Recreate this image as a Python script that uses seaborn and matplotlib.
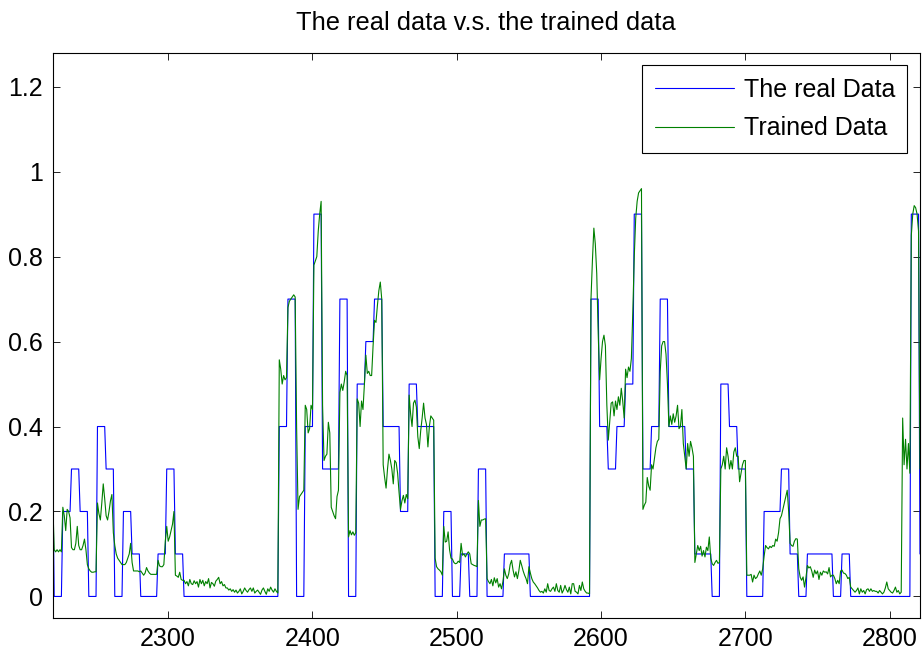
import matplotlib
matplotlib.use("Agg")
import matplotlib.pyplot as plt
import seaborn as sns
import pandas as pd

# ---- data ------------------------------------------------------------
x_start = 2220          # first sample index shown
block_len = 6           # samples per held value of the real series

real_head = [0.3]
real_blocks = [
    0, 0.2, 0.3, 0.2, 0, 0.4, 0.3, 0, 0.2, 0.1,
    0, 0, 0.1, 0.3, 0.1, 0, 0, 0, 0, 0,
    0, 0, 0, 0, 0, 0, 0.4, 0.7, 0, 0.4,
    0.9, 0.3, 0.3, 0.7, 0, 0.5, 0.6, 0.7, 0.4, 0.4,
    0.2, 0.5, 0.4, 0.4, 0, 0.2, 0, 0.1, 0, 0.3,
    0, 0, 0.1, 0.1, 0.1, 0, 0, 0, 0, 0,
    0, 0, 0.7, 0.4, 0.3, 0.4, 0.5, 0.9, 0.3, 0.4,
    0.7, 0.4, 0.4, 0.3, 0.1, 0.1, 0, 0.5, 0.4, 0.3,
    0, 0, 0.2, 0.2, 0.3, 0.1, 0, 0.1, 0.1, 0.1,
    0, 0.1, 0, 0, 0, 0, 0, 0, 0, 0.9,
]
real_tail = [0.1]

trained_head = [0.23]
trained_blocks = [
    [0.11, 0.105, 0.11, 0.105, 0.11, 0.105],
    [0.21, 0.19, 0.155, 0.205, 0.2, 0.185],
    [0.115, 0.11, 0.11, 0.125, 0.165, 0.12],
    [0.11, 0.11, 0.12, 0.135, 0.11, 0.075],
    [0.065, 0.06, 0.057, 0.057, 0.058, 0.058],
    [0.22, 0.195, 0.18, 0.22, 0.265, 0.23],
    [0.19, 0.18, 0.2, 0.225, 0.24, 0.15],
    [0.12, 0.1, 0.09, 0.085, 0.08, 0.075],
    [0.075, 0.075, 0.08, 0.09, 0.1, 0.125],
    [0.08, 0.06, 0.06, 0.06, 0.06, 0.058],
    [0.06, 0.055, 0.05, 0.055, 0.068, 0.06],
    [0.055, 0.052, 0.052, 0.052, 0.052, 0.052],
    [0.085, 0.072, 0.07, 0.07, 0.075, 0.13],
    [0.165, 0.13, 0.14, 0.155, 0.17, 0.2],
    [0.05, 0.048, 0.045, 0.057, 0.04, 0.038],
    [0.038, 0.03, 0.035, 0.025, 0.04, 0.03],
    [0.028, 0.037, 0.03, 0.035, 0.022, 0.04],
    [0.03, 0.038, 0.025, 0.035, 0.03, 0.042],
    [0.02, 0.033, 0.03, 0.024, 0.036, 0.04],
    [0.045, 0.03, 0.035, 0.025, 0.028, 0.02],
    [0.02, 0.015, 0.018, 0.012, 0.016, 0.01],
    [0.015, 0.008, 0.012, 0.018, 0.006, 0.012],
    [0.02, 0.014, 0.01, 0.016, 0.02, 0.012],
    [0.02, 0.008, 0.012, 0.015, 0.01, 0.005],
    [0.015, 0.02, 0.012, 0.005, 0.018, 0.012],
    [0.022, 0.015, 0.01, 0.018, 0.012, 0.008],
    [0.557, 0.535, 0.5, 0.52, 0.51, 0.515],
    [0.68, 0.695, 0.7, 0.705, 0.71, 0.705],
    [0.4, 0.205, 0.235, 0.24, 0.245, 0.25],
    [0.45, 0.44, 0.385, 0.395, 0.45, 0.44],
    [0.78, 0.79, 0.8, 0.86, 0.9, 0.93],
    [0.45, 0.32, 0.33, 0.335, 0.41, 0.385],
    [0.21, 0.2, 0.19, 0.183, 0.235, 0.25],
    [0.48, 0.5, 0.485, 0.505, 0.53, 0.52],
    [0.14, 0.155, 0.145, 0.152, 0.144, 0.15],
    [0.465, 0.455, 0.4, 0.46, 0.44, 0.5],
    [0.568, 0.525, 0.53, 0.52, 0.52, 0.59],
    [0.65, 0.645, 0.685, 0.72, 0.74, 0.7],
    [0.31, 0.28, 0.255, 0.3, 0.335, 0.32],
    [0.3, 0.265, 0.32, 0.315, 0.29, 0.245],
    [0.205, 0.225, 0.238, 0.22, 0.24, 0.23],
    [0.474, 0.43, 0.4, 0.455, 0.462, 0.446],
    [0.376, 0.348, 0.39, 0.42, 0.455, 0.42],
    [0.405, 0.352, 0.4, 0.425, 0.42, 0.415],
    [0.09, 0.07, 0.065, 0.062, 0.058, 0.05],
    [0.165, 0.128, 0.13, 0.152, 0.11, 0.09],
    [0.088, 0.08, 0.077, 0.078, 0.083, 0.08],
    [0.125, 0.097, 0.1, 0.093, 0.1, 0.105],
    [0.1, 0.077, 0.075, 0.073, 0.072, 0.07],
    [0.226, 0.165, 0.18, 0.18, 0.182, 0.183],
    [0.042, 0.035, 0.03, 0.04, 0.025, 0.044],
    [0.032, 0.042, 0.022, 0.03, 0.018, 0.035],
    [0.065, 0.05, 0.042, 0.053, 0.075, 0.085],
    [0.062, 0.046, 0.058, 0.042, 0.06, 0.085],
    [0.073, 0.06, 0.05, 0.042, 0.03, 0.07],
    [0.055, 0.042, 0.034, 0.03, 0.025, 0.02],
    [0.014, 0.01, 0.012, 0.008, 0.018, 0.01],
    [0.03, 0.014, 0.012, 0.018, 0.022, 0.012],
    [0.03, 0.014, 0.01, 0.026, 0.008, 0.015],
    [0.026, 0.016, 0.01, 0.022, 0.006, 0.03],
    [0.03, 0.012, 0.01, 0.006, 0.026, 0.014],
    [0.034, 0.018, 0.012, 0.008, 0.008, 0.006],
    [0.7, 0.79, 0.867, 0.83, 0.76, 0.62],
    [0.51, 0.56, 0.6, 0.615, 0.59, 0.45],
    [0.368, 0.41, 0.455, 0.458, 0.425, 0.46],
    [0.44, 0.47, 0.45, 0.49, 0.46, 0.42],
    [0.535, 0.515, 0.54, 0.53, 0.56, 0.67],
    [0.8, 0.89, 0.93, 0.95, 0.955, 0.96],
    [0.205, 0.215, 0.222, 0.28, 0.26, 0.25],
    [0.31, 0.3, 0.325, 0.35, 0.365, 0.37],
    [0.53, 0.59, 0.6, 0.6, 0.57, 0.5],
    [0.4, 0.425, 0.405, 0.43, 0.41, 0.425],
    [0.45, 0.395, 0.4, 0.44, 0.36, 0.33],
    [0.3, 0.36, 0.33, 0.365, 0.35, 0.33],
    [0.08, 0.1, 0.12, 0.108, 0.118, 0.095],
    [0.108, 0.093, 0.116, 0.108, 0.14, 0.09],
    [0.077, 0.073, 0.08, 0.085, 0.078, 0.08],
    [0.3, 0.31, 0.33, 0.3, 0.35, 0.33],
    [0.3, 0.32, 0.3, 0.34, 0.35, 0.33],
    [0.33, 0.27, 0.29, 0.31, 0.32, 0.32],
    [0.05, 0.05, 0.05, 0.052, 0.034, 0.05],
    [0.042, 0.045, 0.053, 0.06, 0.05, 0.065],
    [0.095, 0.12, 0.115, 0.112, 0.118, 0.115],
    [0.12, 0.118, 0.135, 0.13, 0.15, 0.183],
    [0.19, 0.205, 0.22, 0.235, 0.25, 0.2],
    [0.125, 0.12, 0.118, 0.13, 0.136, 0.135],
    [0.065, 0.045, 0.038, 0.046, 0.022, 0.045],
    [0.073, 0.067, 0.07, 0.06, 0.045, 0.062],
    [0.053, 0.06, 0.04, 0.057, 0.05, 0.06],
    [0.057, 0.058, 0.053, 0.068, 0.046, 0.05],
    [0.05, 0.042, 0.03, 0.038, 0.03, 0.06],
    [0.062, 0.055, 0.054, 0.05, 0.042, 0.045],
    [0.022, 0.018, 0.014, 0.01, 0.014, 0.02],
    [0.006, 0.018, 0.01, 0.014, 0.006, 0.016],
    [0.018, 0.012, 0.018, 0.012, 0.014, 0.012],
    [0.012, 0.008, 0.014, 0.01, 0.006, 0.01],
    [0.02, 0.034, 0.018, 0.014, 0.01, 0.008],
    [0.014, 0.022, 0.01, 0.014, 0.006, 0.01],
    [0.42, 0.31, 0.37, 0.3, 0.36, 0.29],
    [0.85, 0.9, 0.92, 0.915, 0.9, 0.86],
]
trained_tail = [0.3]

x_ticks = [2300, 2400, 2500, 2600, 2700, 2800]
y_ticks = [0, 0.2, 0.4, 0.6, 0.8, 1.0, 1.2]
y_tick_labels = ["0", "0.2", "0.4", "0.6", "0.8", "1", "1.2"]

series_names = ["The real Data", "Trained Data"]
title_text = "The real data v.s. the trained data"

# ---- assemble the series --------------------------------------------
real = list(real_head)
for v in real_blocks:
    real.extend([v] * block_len)
real.extend(real_tail)

trained = list(trained_head)
for blk in trained_blocks:
    trained.extend(blk)
trained.extend(trained_tail)

idx = list(range(x_start, x_start + len(real)))
df = pd.DataFrame({"x": idx, "real": real, "trained": trained})

# ---- styling ---------------------------------------------------------
sns.set_theme(style="white")
plt.rcParams["font.family"] = ["Liberation Sans", "DejaVu Sans"]
plt.rcParams["axes.linewidth"] = 0.8
plt.rcParams["text.color"] = "black"

fs = 18
fig = plt.figure(figsize=(9.22, 6.56), dpi=100)
ax = fig.add_axes([0.0572, 0.0584, 0.9406, 0.8613])

sns.lineplot(data=df, x="x", y="real", ax=ax, color="#0000ff",
             linewidth=0.8, label=series_names[0], estimator=None)
sns.lineplot(data=df, x="x", y="trained", ax=ax, color="#008000",
             linewidth=0.8, label=series_names[1], estimator=None)

ax.set_xlim(x_start, x_start + len(real) - 1)
ax.set_ylim(-0.05, 1.28)
ax.set_xticks(x_ticks)
ax.set_xticklabels([str(t) for t in x_ticks])
ax.set_yticks(y_ticks)
ax.set_yticklabels(y_tick_labels)
ax.set_xlabel("")
ax.set_ylabel("")

for s in ax.spines.values():
    s.set_visible(True)
    s.set_color("black")
    s.set_linewidth(0.8)

ax.tick_params(axis="both", which="both", direction="in", length=5,
               width=0.6, colors="black", labelsize=fs,
               top=True, right=True, bottom=True, left=True)
ax.tick_params(axis="x", pad=7)
ax.tick_params(axis="y", pad=7)

ax.set_title(title_text, fontsize=18.3, pad=16, color="black")

leg = ax.legend(loc="upper right", fontsize=fs, frameon=True, fancybox=False,
                framealpha=1, edgecolor="black", handlelength=3.15,
                handletextpad=0.4, borderpad=0.5, labelspacing=0.59,
                borderaxespad=0.5, labelcolor="black")
leg.get_frame().set_linewidth(0.8)
for line in leg.get_lines():
    line.set_linewidth(0.8)

fig.savefig("out.png", dpi=100, facecolor="white")
